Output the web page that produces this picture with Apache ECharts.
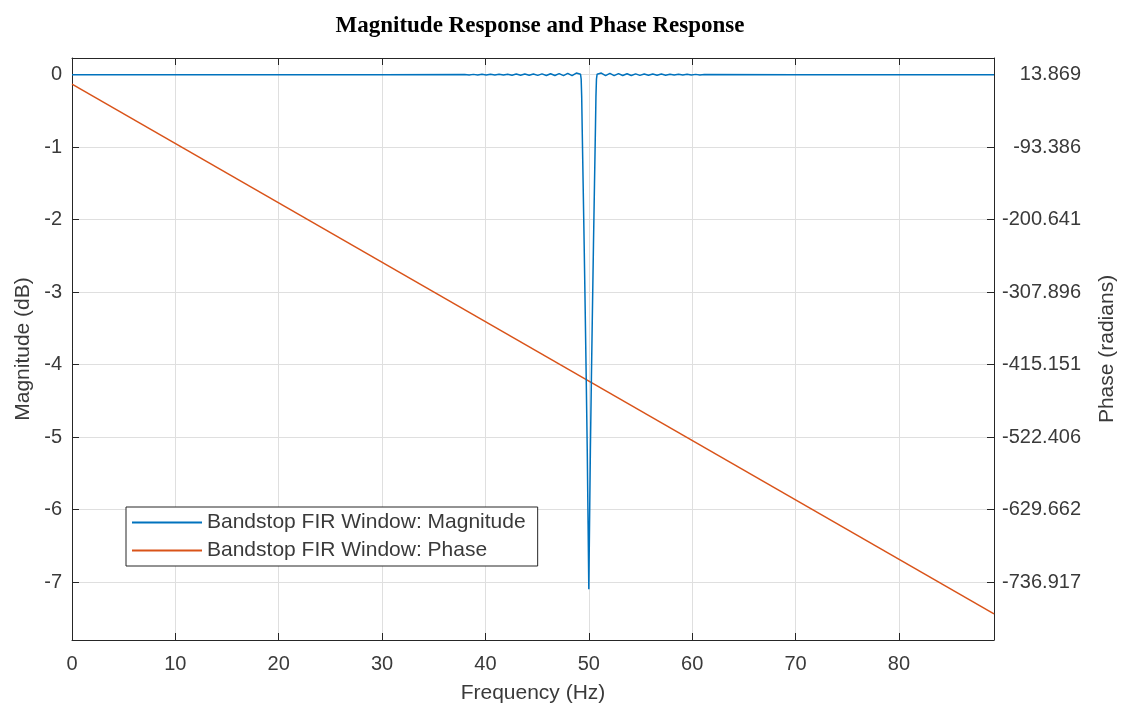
<!DOCTYPE html>
<html><head><meta charset="utf-8">
<script src="https://cdn.jsdelivr.net/npm/echarts@6/dist/echarts.min.js"></script>
<style>html,body{margin:0;padding:0;background:#fff}#c{width:1126px;height:709px}</style>
</head><body><div id="c"></div>
<script>
// ---- data ----
const freqTicks = [0, 10, 20, 30, 40, 50, 60, 70, 80];
const magTicks = [0, -1, -2, -3, -4, -5, -6, -7];
const phaseTicks = [13.869, -93.386, -200.641, -307.896, -415.151, -522.406, -629.662, -736.917];

const magFreq = [0, 30,
  38.00, 38.42, 38.83, 39.25, 39.66, 40.08, 40.49, 40.91, 41.32, 41.74, 42.15, 42.57, 42.98,
  43.40, 43.81, 44.23, 44.64, 45.06, 45.47, 45.89, 46.30, 46.72, 47.13, 47.55, 47.96, 48.38, 48.79,
  49.20, 49.26, 49.31, 49.36, 49.45, 49.55, 49.65, 49.75, 49.85, 49.93, 50.00,
  50.07, 50.15, 50.25, 50.35, 50.45, 50.55, 50.64, 50.69, 50.74, 50.80,
  51.21, 51.62, 52.04, 52.45, 52.87, 53.28, 53.70, 54.11, 54.53, 54.94, 55.36, 55.77, 56.19,
  56.60, 57.02, 57.43, 57.85, 58.26, 58.68, 59.09, 59.51, 59.92, 60.34, 60.75, 61.17,
  70, 89.2];
const magDb = [0, 0,
  0.003, -0.003, 0.004, -0.004, 0.005, -0.005, 0.005, -0.005, 0.006, -0.006, 0.007, -0.007, 0.008,
  -0.008, 0.009, -0.009, 0.010, -0.010, 0.011, -0.011, 0.013, -0.012, 0.015, -0.013, 0.018, -0.014, 0.022,
  0.005, -0.06, -0.3, -0.75, -1.5, -2.35, -3.25, -4.2, -5.2, -6.2, -7.1,
  -6.2, -5.2, -4.2, -3.25, -2.35, -1.5, -0.75, -0.3, -0.06, 0.005,
  0.022, -0.014, 0.018, -0.013, 0.015, -0.012, 0.013, -0.011, 0.011, -0.010, 0.010, -0.009, 0.009,
  -0.008, 0.008, -0.007, 0.007, -0.006, 0.006, -0.005, 0.005, -0.004, 0.004, -0.003, 0.003,
  0, 0];

const phaseFreq = [0, 89.2];
const phaseRad = [0, -784];

// axis limits
const freqMax = 89.2;
const magMin = -7.8, magMax = 0.23;
const phaseAtZeroDb = 13.869, phasePerDb = 107.255;

const magSeries = magFreq.map((f, i) => [f, magDb[i]]);
const phaseSeries = phaseFreq.map((f, i) => [f, phaseRad[i]]);

const axisColor = '#262626';
const labelColor = '#3a3a3a';
const gridColor = '#dfdfdf';
const font = 'Liberation Sans';

const chart = echarts.init(document.getElementById('c'));
chart.setOption({
  animation: false,
  backgroundColor: '#fff',
  title: {
    text: 'Magnitude Response and Phase Response',
    left: 535, top: 10, textAlign: 'center',
    textStyle: { fontFamily: 'Liberation Serif', fontWeight: 'bold', fontSize: 23, color: '#000' }
  },
  legend: {
    orient: 'vertical', left: 126, top: 507,
    icon: 'rect', itemWidth: 70, itemHeight: 2, itemGap: 7,
    padding: [5, 12, 5, 6],
    borderColor: axisColor, borderWidth: 1, backgroundColor: '#fff',
    textStyle: { fontFamily: font, fontSize: 21, color: labelColor },
    data: ['Bandstop FIR Window: Magnitude', 'Bandstop FIR Window: Phase']
  },
  grid: { left: 72, right: 129, top: 58, bottom: 67, containLabel: false },
  xAxis: [{
    type: 'value', position: 'bottom', min: 0, max: freqMax, interval: 10,
    name: 'Frequency (Hz)', nameLocation: 'middle', nameGap: 43,
    nameTextStyle: { fontFamily: font, fontSize: 21, color: labelColor },
    axisLine: { show: true, onZero: false, lineStyle: { color: axisColor, width: 1 } },
    axisTick: { show: true, inside: true, length: 7, lineStyle: { color: axisColor } },
    axisLabel: { fontFamily: font, fontSize: 20, color: labelColor, margin: 14,
      customValues: freqTicks },
    splitLine: { show: true, lineStyle: { color: gridColor, width: 1 } }
  }, {
    type: 'value', position: 'top', min: 0, max: freqMax, interval: 10,
    axisLine: { show: true, onZero: false, lineStyle: { color: axisColor, width: 1 } },
    axisTick: { show: true, inside: true, length: 7, lineStyle: { color: axisColor } },
    axisLabel: { show: false },
    splitLine: { show: false }
  }],
  yAxis: [{
    type: 'value', position: 'left', min: magMin, max: magMax,
    name: 'Magnitude (dB)', nameLocation: 'middle', nameGap: 38, nameRotate: 90,
    nameTextStyle: { fontFamily: font, fontSize: 21, color: labelColor },
    axisLine: { show: true, onZero: false, lineStyle: { color: axisColor, width: 1 } },
    axisTick: { show: true, inside: true, length: 7, lineStyle: { color: axisColor }, customValues: magTicks },
    axisLabel: { fontFamily: font, fontSize: 20, color: labelColor, margin: 10, customValues: magTicks,
      formatter: v => String(Math.round(v)) },
    splitLine: { show: true, lineStyle: { color: gridColor, width: 1 } }
  }, {
    type: 'value', position: 'right',
    min: magMin * phasePerDb + phaseAtZeroDb, max: magMax * phasePerDb + phaseAtZeroDb,
    name: 'Phase (radians)', nameLocation: 'middle', nameGap: 103, nameRotate: 90,
    nameTextStyle: { fontFamily: font, fontSize: 21, color: labelColor },
    axisLine: { show: true, onZero: false, lineStyle: { color: axisColor, width: 1 } },
    axisTick: { show: true, inside: true, length: 7, lineStyle: { color: axisColor }, customValues: phaseTicks },
    axisLabel: { fontFamily: font, fontSize: 20, color: labelColor, margin: 87, align: 'right',
      customValues: phaseTicks, formatter: v => v.toFixed(3) },
    splitLine: { show: false }
  }],
  series: [{
    name: 'Bandstop FIR Window: Magnitude', type: 'line', xAxisIndex: 0, yAxisIndex: 0,
    data: magSeries, symbol: 'none', smooth: false,
    lineStyle: { color: '#0072BD', width: 1.5 }, itemStyle: { color: '#0072BD' }, z: 3
  }, {
    name: 'Bandstop FIR Window: Phase', type: 'line', xAxisIndex: 0, yAxisIndex: 1,
    data: phaseSeries, symbol: 'none',
    lineStyle: { color: '#D95319', width: 1.5 }, itemStyle: { color: '#D95319' }, z: 2
  }]
});
</script>
</body></html>
